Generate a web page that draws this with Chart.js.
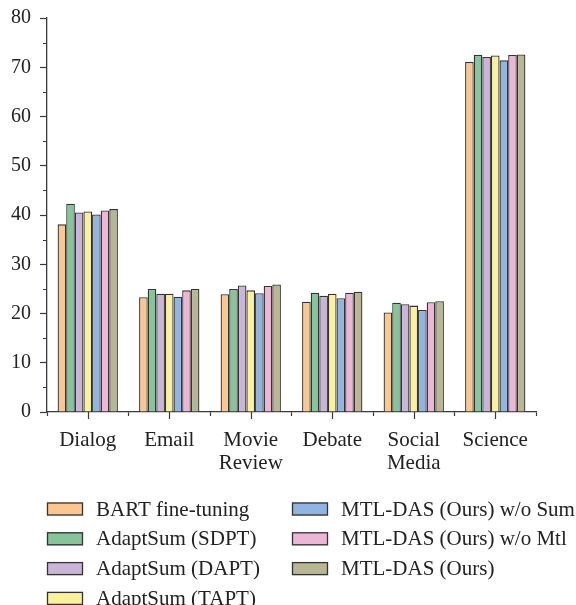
<!DOCTYPE html>
<html>
<head>
<meta charset="utf-8">
<script src="https://cdn.jsdelivr.net/npm/chart.js@4.4.1/dist/chart.umd.min.js"></script>
<style>
  html, body { margin: 0; padding: 0; background: #ffffff; }
  #wrap { position: relative; width: 576px; height: 605px; }
</style>
</head>
<body>
<div id="wrap"><canvas id="c" width="576" height="605"></canvas></div>
<script>
// Domains on the x axis (multi-line labels as arrays)
const domains = ['Dialog', 'Email', ['Movie', 'Review'], 'Debate', ['Social', 'Media'], 'Science'];

// Method names, in legend order
const methods = [
  'BART fine-tuning',
  'AdaptSum (SDPT)',
  'AdaptSum (DAPT)',
  'AdaptSum (TAPT)',
  'MTL-DAS (Ours) w/o Sum',
  'MTL-DAS (Ours) w/o Mtl',
  'MTL-DAS (Ours)'
];

// Scores per method, one value per domain
const bartFineTuning = [38.1, 23.3, 23.9, 22.4, 20.2, 71.1];
const adaptSumSDPT   = [42.3, 25.0, 25.0, 24.2, 22.2, 72.5];
const adaptSumDAPT   = [40.5, 24.0, 25.7, 23.6, 21.9, 72.1];
const adaptSumTAPT   = [40.7, 24.0, 24.7, 24.0, 21.6, 72.4];
const mtlDasNoSum    = [40.1, 23.4, 24.1, 23.1, 20.7, 71.4];
const mtlDasNoMtl    = [40.9, 24.7, 25.6, 24.2, 22.3, 72.5];
const mtlDas         = [41.2, 25.0, 25.9, 24.4, 22.5, 72.6];

// Y axis tick values
const yTicks = [0, 10, 20, 30, 40, 50, 60, 70, 80];

const seriesValues = [bartFineTuning, adaptSumSDPT, adaptSumDAPT, adaptSumTAPT, mtlDasNoSum, mtlDasNoMtl, mtlDas];
const fills = ['#fbc68f', '#86c49a', '#cab4d9', '#fcf19b', '#90b5e1', '#eeb6d6', '#b8b693'];

const SERIF = '"Liberation Serif", "DejaVu Serif", serif';
const INK = '#222222';
const AXIS = '#3a3a3a';

// Short minor ticks on the y axis and long ticks under each category centre
const extraTicks = {
  id: 'extraTicks',
  afterDraw(chart) {
    const ctx = chart.ctx;
    const x = chart.scales.x, y = chart.scales.y;
    ctx.save();
    ctx.strokeStyle = AXIS;
    ctx.lineWidth = 1.2;
    ctx.beginPath();
    for (let i = 0; i < yTicks.length - 1; i++) {
      const v = (yTicks[i] + yTicks[i + 1]) / 2;
      const py = Math.round(y.getPixelForValue(v)) + 0.5;
      ctx.moveTo(y.right - 4, py);
      ctx.lineTo(y.right, py);
    }
    for (let i = 0; i < domains.length; i++) {
      const px = Math.round(x.getPixelForValue(i)) + 0.5;
      ctx.moveTo(px, x.top);
      ctx.lineTo(px, x.top + 7);
    }
    ctx.stroke();
    ctx.restore();
  }
};

// Two-column legend below the axis
const columnLegend = {
  id: 'columnLegend',
  afterDraw(chart, args, opts) {
    const ctx = chart.ctx;
    ctx.save();
    ctx.font = opts.font;
    ctx.textBaseline = 'middle';
    ctx.textAlign = 'left';
    chart.data.datasets.forEach((ds, i) => {
      const col = Math.floor(i / opts.rowsPerColumn);
      const row = i % opts.rowsPerColumn;
      const bx = opts.columns[col];
      const cy = opts.top + row * opts.rowGap;
      ctx.fillStyle = ds.backgroundColor;
      ctx.fillRect(bx, cy - opts.boxH / 2, opts.boxW, opts.boxH);
      ctx.strokeStyle = '#333333';
      ctx.lineWidth = 1.3;
      ctx.strokeRect(bx + 0.5, cy - opts.boxH / 2 + 0.5, opts.boxW - 1, opts.boxH - 1);
      ctx.fillStyle = INK;
      ctx.fillText(ds.label, bx + opts.boxW + opts.gap, cy + 1);
    });
    ctx.restore();
  }
};

new Chart(document.getElementById('c'), {
  type: 'bar',
  data: {
    labels: domains,
    datasets: methods.map((name, i) => ({
      label: name,
      data: seriesValues[i],
      backgroundColor: fills[i],
      borderColor: '#333333',
      borderWidth: 1.3,
      categoryPercentage: 0.74,
      barPercentage: 1.0
    }))
  },
  options: {
    responsive: false,
    animation: false,
    layout: { padding: { left: 0, right: 40, top: 18, bottom: 0 } },
    plugins: {
      legend: { display: false },
      tooltip: { enabled: false },
      columnLegend: {
        font: '21px ' + SERIF,
        rowsPerColumn: 4,
        columns: [47, 292],
        top: 509,
        rowGap: 29.8,
        boxW: 36,
        boxH: 13,
        gap: 13
      }
    },
    scales: {
      x: {
        offset: true,
        border: { display: true, color: AXIS, width: 1.3 },
        grid: { display: true, drawOnChartArea: false, offset: true, tickLength: 4, color: AXIS, tickWidth: 1.2 },
        ticks: { color: INK, font: { family: SERIF, size: 21, lineHeight: 1.1 }, padding: 13, maxRotation: 0, autoSkip: false },
        afterFit(scale) { scale.height = 193; }
      },
      y: {
        min: 0,
        max: 80,
        afterBuildTicks(scale) { scale.ticks = yTicks.map(v => ({ value: v })); },
        border: { display: true, color: AXIS, width: 1.3 },
        grid: { display: true, drawOnChartArea: false, tickLength: 7, color: AXIS, tickWidth: 1.2 },
        ticks: { color: INK, font: { family: SERIF, size: 20, lineHeight: 0.8 }, padding: 9 },
        afterFit(scale) { scale.width = 47; }
      }
    }
  },
  plugins: [extraTicks, columnLegend]
});
</script>
</body>
</html>
